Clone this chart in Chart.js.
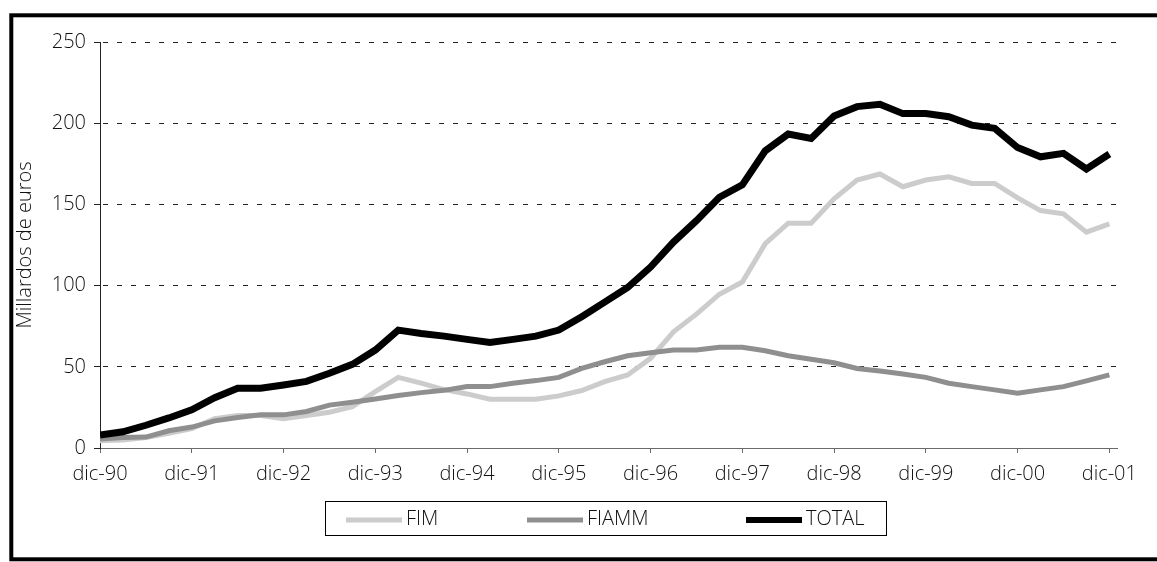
<!DOCTYPE html>
<html>
<head>
<meta charset="utf-8">
<script src="https://cdn.jsdelivr.net/npm/chart.js@4/dist/chart.umd.min.js"></script>
<style>
  html, body { margin: 0; padding: 0; background: #fff; }
  #wrap { position: relative; width: 1157px; height: 562px; }
</style>
</head>
<body>
<div id="wrap"><canvas id="c" width="1157" height="562"></canvas></div>
<script>
// Quarterly observation dates (categories)
const quarters = [
  'dic-90','mar-91','jun-91','sep-91','dic-91','mar-92','jun-92','sep-92','dic-92',
  'mar-93','jun-93','sep-93','dic-93','mar-94','jun-94','sep-94','dic-94',
  'mar-95','jun-95','sep-95','dic-95','mar-96','jun-96','sep-96','dic-96',
  'mar-97','jun-97','sep-97','dic-97','mar-98','jun-98','sep-98','dic-98',
  'mar-99','jun-99','sep-99','dic-99','mar-00','jun-00','sep-00','dic-00',
  'mar-01','jun-01','sep-01','dic-01'
];
// X axis tick labels (one per year)
const tickLabels = ['dic-90','dic-91','dic-92','dic-93','dic-94','dic-95','dic-96','dic-97','dic-98','dic-99','dic-00','dic-01'];
// Series (miles de millones de euros)
const fim = [4.5,5,6.5,9,12,18,20,20,18,20,22,25.5,34.7,43.5,39.9,36,33.3,30,30,30,32.1,35.4,40.9,45,55.2,71.5,82.4,94.7,102.2,125.8,138.4,138.4,153.4,165,168.7,160.9,165,167,162.9,162.9,154,146.2,144.2,132.9,138];
const fiamm = [5.5,6.5,6.7,10.6,12.9,16.7,18.8,20.4,20.4,22.5,26.4,28.2,30.2,32.3,34.1,35.5,37.8,37.8,39.9,41.5,43.5,49,53.1,56.8,58.7,60.3,60.3,62,62,59.9,56.8,54.6,52.5,49,47.4,45.6,43.5,39.9,37.8,35.8,33.7,35.8,37.8,41.3,45];
const total = [8,10,14,18.5,23.5,31,36.8,36.8,38.8,41,46,51.5,60.3,72.6,70.5,68.9,66.9,65,66.9,68.9,72.6,80.8,89.8,98.8,111.4,126.8,140,154.4,162,183,193.3,190.6,204.5,210.2,211.7,205.9,205.9,204,198.8,196.9,185,179.3,181.4,171.8,181];
const seriesNames = ['FIM','FIAMM','TOTAL'];
const yTicks = [0, 50, 100, 150, 200, 250];

const FONT = "'Open Sans', 'Noto Sans', 'Liberation Sans', sans-serif";
const MONTHS_PER_QUARTER = 3;
const toPoints = arr => arr.map((v, i) => ({ x: i * MONTHS_PER_QUARTER, y: v }));

const framePlugin = {
  id: 'frame',
  beforeDraw(chart) {
    const ctx = chart.ctx;
    ctx.save();
    ctx.fillStyle = '#fff';
    ctx.fillRect(0, 0, chart.width, chart.height);
    ctx.strokeStyle = '#000';
    ctx.lineWidth = 4;
    ctx.strokeRect(11.3, 15.3, 1200, 544);
    ctx.restore();
  }
};

const boxLegend = {
  id: 'boxLegend',
  afterDraw(chart) {
    const ctx = chart.ctx;
    const a = chart.chartArea;
    const w = 561, h = 34;
    const left = Math.round((a.left + a.right) / 2 - 3 - w / 2);
    const top = Math.round(a.bottom + 53);
    ctx.save();
    ctx.strokeStyle = '#000';
    ctx.lineWidth = 1;
    ctx.strokeRect(left + 0.5, top + 0.5, w, h);
    const offs = [21, 202, 421];
    const sw = 56;
    chart.data.datasets.forEach((ds, i) => {
      const x = left + offs[i];
      const sh = ds.legendSwatch;
      ctx.fillStyle = ds.borderColor;
      ctx.fillRect(x, top + 19 - sh / 2, sw, sh);
      ctx.fillStyle = '#111';
      ctx.font = '300 20px ' + FONT;
      ctx.textBaseline = 'alphabetic';
      ctx.textAlign = 'left';
      ctx.fillText(ds.label, x + sw + 4, top + 24);
    });
    ctx.restore();
  }
};

new Chart(document.getElementById('c'), {
  type: 'line',
  data: {
    datasets: [
      { label: seriesNames[0], data: toPoints(fim), borderColor: '#cccccc', backgroundColor: '#cccccc', borderWidth: 5, order: 3, legendSwatch: 5 },
      { label: seriesNames[1], data: toPoints(fiamm), borderColor: '#8f8f8f', backgroundColor: '#8f8f8f', borderWidth: 5, order: 2, legendSwatch: 5 },
      { label: seriesNames[2], data: toPoints(total), borderColor: '#000000', backgroundColor: '#000000', borderWidth: 7, order: 1, legendSwatch: 6 }
    ]
  },
  options: {
    responsive: false,
    animation: false,
    devicePixelRatio: 1,
    elements: {
      point: { radius: 0, hoverRadius: 0 },
      line: { tension: 0, fill: false, borderCapStyle: 'butt', borderJoinStyle: 'miter' }
    },
    layout: { padding: { left: 0, top: 42, right: 40, bottom: 74 } },
    plugins: {
      legend: { display: false },
      tooltip: { enabled: false }
    },
    scales: {
      x: {
        type: 'linear',
        min: 0,
        max: (tickLabels.length - 1) * 12 + 1,
        afterFit: s => { s.height = 40; },
        grid: { drawOnChartArea: false, drawTicks: true, tickLength: 5, color: '#6a6a6a', tickBorderDash: [] },
        border: { display: true, color: '#6a6a6a', width: 1 },
        ticks: {
          stepSize: 12,
          includeBounds: false,
          autoSkip: false,
          maxRotation: 0,
          padding: 9,
          color: '#111',
          font: { family: FONT, size: 20, weight: '300' },
          callback: v => tickLabels[v / 12] ?? ''
        }
      },
      y: {
        min: 0,
        max: 250,
        afterFit: s => { s.width = 100; },
        afterBuildTicks: s => { s.ticks = yTicks.map(v => ({ value: v })); },
        grid: { color: '#222', lineWidth: 1, drawTicks: true, tickLength: 6, tickBorderDash: [] },
        border: { display: true, color: '#222', width: 1, dash: [5, 9], dashOffset: 12 },
        ticks: {
          padding: 8,
          color: '#111',
          font: { family: FONT, size: 20, weight: '300' }
        },
        title: {
          display: true,
          text: 'Millardos de euros',
          color: '#111',
          font: { family: FONT, size: 20, weight: '300' },
          padding: { top: 13.5, bottom: 0 }
        }
      }
    }
  },
  plugins: [framePlugin, boxLegend]
});
</script>
</body>
</html>
